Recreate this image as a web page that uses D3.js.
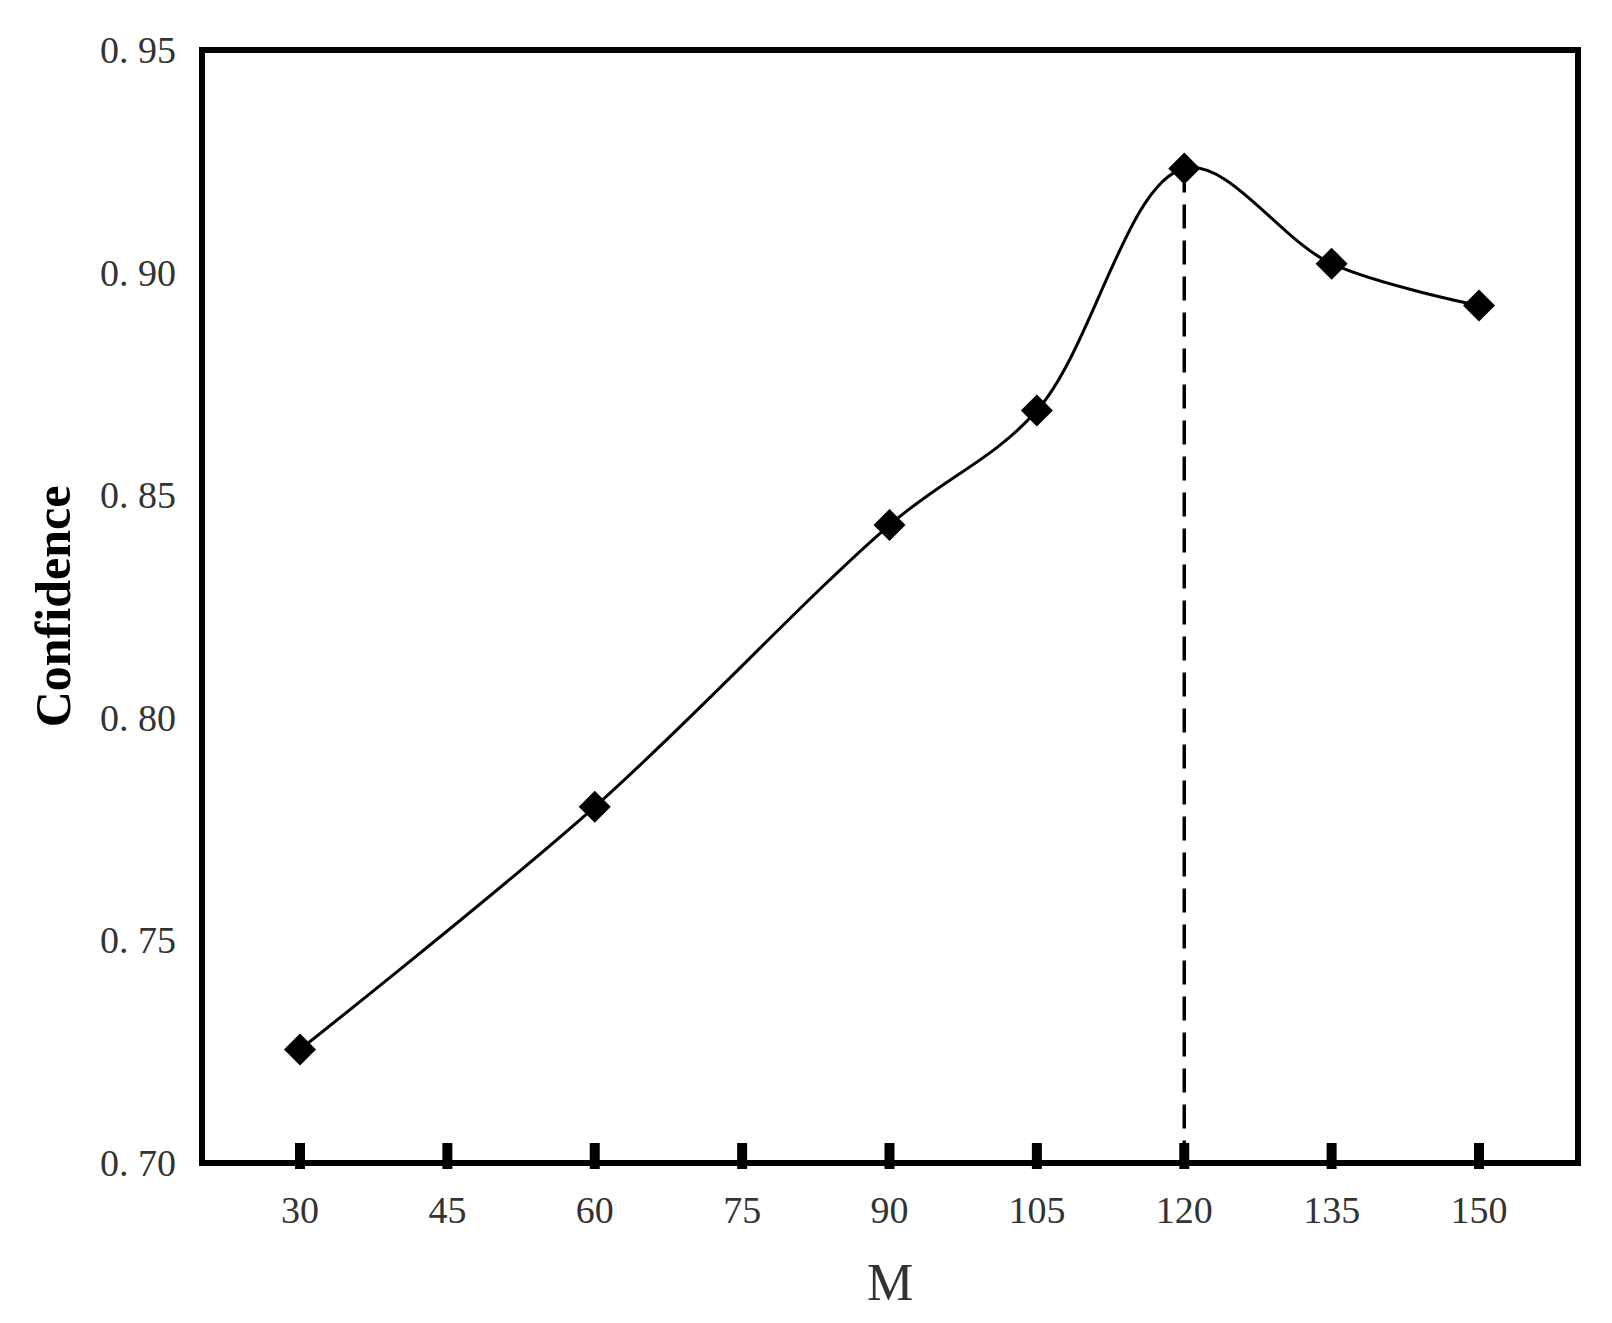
<!DOCTYPE html>
<html><head><meta charset="utf-8">
<script src="https://cdn.jsdelivr.net/npm/d3@7"></script>
<style>body{margin:0;background:#fff}</style></head>
<body><svg id="c" width="1612" height="1323"></svg>
<script>
const mValues=[30,60,90,105,120,135,150];
const confidence=[0.7255,0.780,0.8433,0.869,0.9234,0.902,0.8926];
const xTicks=[30,45,60,75,90,105,120,135,150];
const yTicks=[0.70,0.75,0.80,0.85,0.90,0.95];
const yTickLabels=["0. 70","0. 75","0. 80","0. 85","0. 90","0. 95"];
const peakM=120;

const svg=d3.select("#c");
const L=202,R=1578,T=50,B=1163;
const x=d3.scaleLinear().domain([30,150]).range([300,1479]);
const y=d3.scaleLinear().domain([0.70,0.95]).range([B,T]);
const font="'Liberation Serif','DejaVu Serif',serif";

svg.append("rect").attr("x",L).attr("y",T).attr("width",R-L).attr("height",B-T)
  .attr("fill","none").attr("stroke","#000").attr("stroke-width",6);

svg.selectAll(".xt").data(xTicks).join("line")
  .attr("x1",d=>x(d)).attr("x2",d=>x(d)).attr("y1",B-20).attr("y2",B+6)
  .attr("stroke","#000").attr("stroke-width",10);
svg.selectAll(".xl").data(xTicks).join("text")
  .attr("x",d=>x(d)).attr("y",B+60).attr("text-anchor","middle")
  .attr("font-family",font).attr("font-size",38).attr("fill","#333").text(d=>d);
svg.selectAll(".yl").data(yTicks).join("text")
  .attr("x",L-26).attr("y",d=>y(d)+13).attr("text-anchor","end")
  .attr("font-family",font).attr("font-size",38).attr("fill","#333")
  .text((d,i)=>yTickLabels[i]);

const pts=mValues.map((m,i)=>[m,confidence[i]]);
const peak=pts[mValues.indexOf(peakM)];
svg.append("line").attr("x1",x(peak[0])).attr("x2",x(peak[0])).attr("y1",y(peak[1])).attr("y2",B)
  .attr("stroke","#000").attr("stroke-width",3.5).attr("stroke-dasharray","24,12");

svg.append("path").datum(pts)
  .attr("d",d3.line().x(d=>x(d[0])).y(d=>y(d[1])).curve(d3.curveCatmullRom.alpha(0.5)))
  .attr("fill","none").attr("stroke","#000").attr("stroke-width",3);

svg.selectAll(".pt").data(pts).join("path")
  .attr("transform",d=>`translate(${x(d[0])},${y(d[1])})`)
  .attr("d","M0,-16L16,0L0,16L-16,0Z").attr("fill","#000");

svg.append("text").attr("transform",`translate(70,${(T+B)/2}) rotate(-90)`)
  .attr("text-anchor","middle").attr("font-family",font).attr("font-weight","bold")
  .attr("font-size",50).text("Confidence");
svg.append("text").attr("x",(L+R)/2).attr("y",1300).attr("text-anchor","middle")
  .attr("font-family",font).attr("font-size",52).attr("fill","#333").text("M");
</script></body></html>
